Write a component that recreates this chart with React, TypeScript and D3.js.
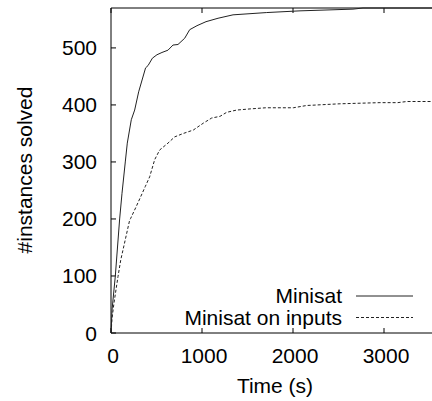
import React from 'react';
import { scaleLinear, line } from 'd3';

// cactus data: time (s) vs instances solved
const minisatTime = [1, 11, 47, 95, 121, 157, 179, 223, 260, 304, 380, 407, 455, 505, 560, 626, 681, 736, 810, 865, 945, 1044, 1176, 1341, 1711, 2077, 2659, 2769, 3600];
const minisatSolved = [1, 40, 99, 200, 245, 300, 333, 374, 391, 423, 465, 469, 482, 488, 492, 496, 505, 506, 517, 532, 539, 546, 552, 558, 562, 565, 568, 570, 570];

const inputsTime = [1, 11, 33, 77, 107, 205, 216, 278, 377, 425, 480, 535, 626, 700, 795, 905, 1014, 1106, 1198, 1271, 1381, 1527, 1700, 2003, 2150, 2516, 2956, 3150, 3250, 3600];
const inputsSolved = [1, 25, 53, 99, 128, 198, 201, 222, 257, 274, 304, 321, 333, 344, 350, 356, 368, 377, 380, 387, 391, 393, 395, 395, 399, 402, 404, 404, 406, 406];

const xTicks = [0, 1000, 2000, 3000];
const yTicks = [0, 100, 200, 300, 400, 500];

const seriesNames = ['Minisat', 'Minisat on inputs'];

const W = 432;
const H = 401;
const FONT = '"Liberation Sans", Arial, Helvetica, sans-serif';

export default function App() {
  const x = scaleLinear().domain([0, 3600]).range([111, 438.6]);
  const y = scaleLinear().domain([0, 570]).range([333, 8]);

  const pts = (ts: number[], vs: number[]) => ts.map((t, i) => [t, vs[i]] as [number, number]);
  const path = line<[number, number]>().x(d => x(d[0])).y(d => y(d[1]));

  const left = x(0);
  const right = x(3600);
  const top = y(570);
  const bottom = y(0);
  const tick = 5;

  return (
    <svg width={W} height={H} style={{ position: 'absolute', left: 0, top: 0, background: '#fff' }} fontFamily={FONT}>
      {/* frame (right side falls outside the picture) */}
      <path d={`M${right},${top}H${left}V${bottom}H${right}`} fill="none" stroke="#000" strokeWidth={1} />

      {xTicks.map(t => (
        <g key={'x' + t}>
          <line x1={x(t)} x2={x(t)} y1={bottom} y2={bottom - tick} stroke="#000" />
          <line x1={x(t)} x2={x(t)} y1={top} y2={top + tick} stroke="#000" />
          <text x={x(t) + 2} y={363} textAnchor="middle" fontSize={21} fill="#000">{t}</text>
        </g>
      ))}

      {yTicks.map(v => (
        <g key={'y' + v}>
          <line x1={left} x2={left + tick} y1={y(v)} y2={y(v)} stroke="#000" />
          <text x={97} y={y(v) + 7.5} textAnchor="end" fontSize={21} fill="#000">{v}</text>
        </g>
      ))}

      <text x={275} y={393} textAnchor="middle" fontSize={21} fill="#000">Time (s)</text>
      <text transform={`translate(32,170) rotate(-90)`} textAnchor="middle" fontSize={21} fill="#000">#instances solved</text>

      <path d={path(pts(minisatTime, minisatSolved)) || ''} fill="none" stroke="#222" strokeWidth={1} />
      <path d={path(pts(inputsTime, inputsSolved)) || ''} fill="none" stroke="#222" strokeWidth={1} strokeDasharray="3,2" />

      {/* key */}
      <text x={342} y={303} textAnchor="end" fontSize={21} fill="#000">{seriesNames[0]}</text>
      <line x1={356} x2={413} y1={296} y2={296} stroke="#222" />
      <text x={342} y={325} textAnchor="end" fontSize={21} fill="#000">{seriesNames[1]}</text>
      <line x1={356} x2={413} y1={317.5} y2={317.5} stroke="#222" strokeDasharray="3,2" />
    </svg>
  );
}
